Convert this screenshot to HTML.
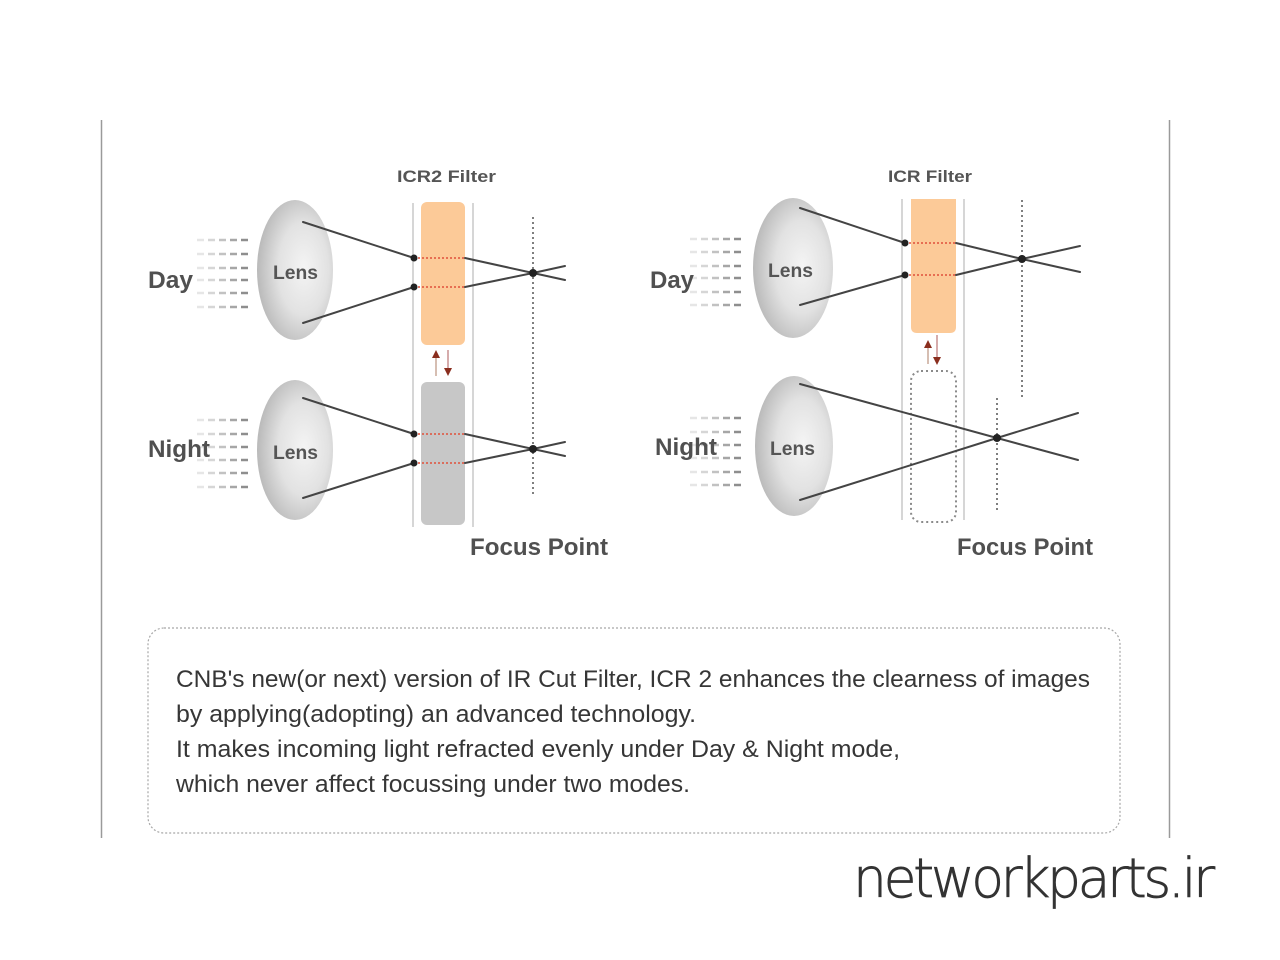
<!DOCTYPE html>
<html>
<head>
<meta charset="utf-8">
<style>
html,body{margin:0;padding:0;background:#fff;}
svg{display:block;}
text{font-family:"Liberation Sans",sans-serif;}
</style>
</head>
<body>
<svg width="1280" height="960" viewBox="0 0 1280 960" xmlns="http://www.w3.org/2000/svg">
<defs>
<radialGradient id="lens" cx="0.6" cy="0.5" r="0.6" fx="0.62" fy="0.48">
<stop offset="0" stop-color="#f4f4f4"/>
<stop offset="0.55" stop-color="#e2e2e2"/>
<stop offset="1" stop-color="#b9b9b9"/>
</radialGradient>
<g id="dl" stroke-width="2.5">
<line x1="197" y1="0" x2="204" y2="0" stroke="#e6e6e6"/>
<line x1="208" y1="0" x2="215" y2="0" stroke="#d6d6d6"/>
<line x1="219" y1="0" x2="226" y2="0" stroke="#c2c2c2"/>
<line x1="230" y1="0" x2="237" y2="0" stroke="#a6a6a6"/>
<line x1="241" y1="0" x2="248" y2="0" stroke="#8e8e8e"/>
</g>
</defs>
<rect width="1280" height="960" fill="#fff"/>

<!-- page side borders -->
<line x1="101.5" y1="120" x2="101.5" y2="838" stroke="#9a9a9a" stroke-width="1.5"/>
<line x1="1169.5" y1="120" x2="1169.5" y2="838" stroke="#9a9a9a" stroke-width="1.5"/>

<!-- ================= LEFT DIAGRAM ================= -->
<text x="397" y="182" font-size="17" font-weight="bold" fill="#555" textLength="99" lengthAdjust="spacingAndGlyphs">ICR2 Filter</text>

<line x1="413" y1="203" x2="413" y2="527" stroke="#c9c9c9" stroke-width="1.5"/>
<line x1="473" y1="203" x2="473" y2="527" stroke="#c9c9c9" stroke-width="1.5"/>
<rect x="421" y="202" width="44" height="143" rx="6" fill="#fcca98"/>
<rect x="421" y="382" width="44" height="143" rx="6" fill="#c7c7c7"/>

<line x1="436" y1="376" x2="436" y2="356" stroke="#c8a898" stroke-width="1.5"/>
<polygon points="432,358 440,358 436,350" fill="#8a2e1e"/>
<line x1="448" y1="350" x2="448" y2="369" stroke="#c89090" stroke-width="1.5"/>
<polygon points="444,368 452,368 448,376" fill="#8a2e1e"/>

<line x1="533" y1="217" x2="533" y2="497" stroke="#555" stroke-width="1.5" stroke-dasharray="2,3"/>

<ellipse cx="295" cy="270" rx="38" ry="70" fill="url(#lens)"/>
<ellipse cx="295" cy="450" rx="38" ry="70" fill="url(#lens)"/>
<text x="273" y="279" font-size="19" font-weight="bold" fill="#555" textLength="45" lengthAdjust="spacingAndGlyphs">Lens</text>
<text x="273" y="459" font-size="19" font-weight="bold" fill="#555" textLength="45" lengthAdjust="spacingAndGlyphs">Lens</text>

<use href="#dl" y="240"/><use href="#dl" y="254"/><use href="#dl" y="268"/><use href="#dl" y="280"/><use href="#dl" y="293"/><use href="#dl" y="307"/>
<use href="#dl" y="420"/><use href="#dl" y="434"/><use href="#dl" y="447"/><use href="#dl" y="460"/><use href="#dl" y="473"/><use href="#dl" y="487"/>

<text x="148" y="288" font-size="24" font-weight="bold" fill="#505050" textLength="45" lengthAdjust="spacingAndGlyphs">Day</text>
<text x="148" y="457" font-size="24" font-weight="bold" fill="#505050" textLength="62" lengthAdjust="spacingAndGlyphs">Night</text>

<g fill="none" stroke="#444" stroke-width="2" stroke-linecap="round">
<polyline points="303,222 414,258"/>
<polyline points="465,258 533,273 565,280"/>
<polyline points="303,323 414,287"/>
<polyline points="465,287 533,273 565,266"/>
<polyline points="303,398 414,434"/>
<polyline points="465,434 533,449 565,456"/>
<polyline points="303,498 414,463"/>
<polyline points="465,463 533,449 565,442"/>
</g>
<g stroke="#e0503a" stroke-width="1.5" stroke-dasharray="2,2">
<line x1="414" y1="258" x2="465" y2="258"/>
<line x1="414" y1="287" x2="465" y2="287"/>
<line x1="414" y1="434" x2="465" y2="434"/>
<line x1="414" y1="463" x2="465" y2="463"/>
</g>
<g fill="#222">
<circle cx="414" cy="258" r="3.5"/><circle cx="414" cy="287" r="3.5"/>
<circle cx="414" cy="434" r="3.5"/><circle cx="414" cy="463" r="3.5"/>
<circle cx="533" cy="273" r="4"/><circle cx="533" cy="449" r="4"/>
</g>

<text x="470" y="555" font-size="24" font-weight="bold" fill="#505050" textLength="138" lengthAdjust="spacingAndGlyphs">Focus Point</text>

<!-- ================= RIGHT DIAGRAM ================= -->
<text x="888" y="182" font-size="17" font-weight="bold" fill="#555" textLength="84" lengthAdjust="spacingAndGlyphs">ICR Filter</text>

<line x1="902" y1="199" x2="902" y2="520" stroke="#c9c9c9" stroke-width="1.5"/>
<line x1="964" y1="199" x2="964" y2="520" stroke="#c9c9c9" stroke-width="1.5"/>
<path d="M911,199 H956 V327 Q956,333 950,333 H917 Q911,333 911,327 Z" fill="#fcca98"/>
<rect x="911" y="371" width="45" height="151" rx="10" fill="none" stroke="#8a8a8a" stroke-width="2" stroke-dasharray="2,3"/>

<line x1="928" y1="364" x2="928" y2="346" stroke="#c8a898" stroke-width="1.5"/>
<polygon points="924,348 932,348 928,340" fill="#8a2e1e"/>
<line x1="937" y1="335" x2="937" y2="358" stroke="#c89090" stroke-width="1.5"/>
<polygon points="933,357 941,357 937,365" fill="#8a2e1e"/>

<line x1="1022" y1="200" x2="1022" y2="398" stroke="#555" stroke-width="1.5" stroke-dasharray="2,3"/>
<line x1="997" y1="398" x2="997" y2="512" stroke="#555" stroke-width="1.5" stroke-dasharray="2,3"/>

<ellipse cx="793" cy="268" rx="40" ry="70" fill="url(#lens)"/>
<ellipse cx="794" cy="446" rx="39" ry="70" fill="url(#lens)"/>
<text x="768" y="277" font-size="19" font-weight="bold" fill="#555" textLength="45" lengthAdjust="spacingAndGlyphs">Lens</text>
<text x="770" y="455" font-size="19" font-weight="bold" fill="#555" textLength="45" lengthAdjust="spacingAndGlyphs">Lens</text>

<use href="#dl" x="493" y="239"/><use href="#dl" x="493" y="252"/><use href="#dl" x="493" y="266"/><use href="#dl" x="493" y="278"/><use href="#dl" x="493" y="292"/><use href="#dl" x="493" y="305"/>
<use href="#dl" x="493" y="418"/><use href="#dl" x="493" y="432"/><use href="#dl" x="493" y="445"/><use href="#dl" x="493" y="458"/><use href="#dl" x="493" y="472"/><use href="#dl" x="493" y="485"/>

<text x="650" y="288" font-size="24" font-weight="bold" fill="#505050" textLength="44" lengthAdjust="spacingAndGlyphs">Day</text>
<text x="655" y="455" font-size="24" font-weight="bold" fill="#505050" textLength="62" lengthAdjust="spacingAndGlyphs">Night</text>

<g fill="none" stroke="#444" stroke-width="2" stroke-linecap="round">
<polyline points="800,208 905,243"/>
<polyline points="956,243 1022,259 1080,272"/>
<polyline points="800,305 905,275"/>
<polyline points="956,275 1022,259 1080,246"/>
<polyline points="800,384 997,438 1078,460"/>
<polyline points="800,500 997,438 1078,413"/>
</g>
<g stroke="#e0503a" stroke-width="1.5" stroke-dasharray="2,2">
<line x1="905" y1="243" x2="956" y2="243"/>
<line x1="905" y1="275" x2="956" y2="275"/>
</g>
<g fill="#222">
<circle cx="905" cy="243" r="3.5"/><circle cx="905" cy="275" r="3.5"/>
<circle cx="1022" cy="259" r="4"/><circle cx="997" cy="438" r="4"/>
</g>

<text x="957" y="555" font-size="24" font-weight="bold" fill="#505050" textLength="136" lengthAdjust="spacingAndGlyphs">Focus Point</text>

<!-- ================= TEXT BOX ================= -->
<rect x="148" y="628" width="972" height="205" rx="16" fill="none" stroke="#a8a8a8" stroke-width="1.2" stroke-dasharray="2,2"/>
<g font-size="24" fill="#363636">
<text x="176" y="687" textLength="914" lengthAdjust="spacingAndGlyphs">CNB's new(or next) version of IR Cut Filter, ICR 2 enhances the clearness of images</text>
<text x="176" y="722" textLength="520" lengthAdjust="spacingAndGlyphs">by applying(adopting) an advanced technology.</text>
<text x="176" y="757" textLength="724" lengthAdjust="spacingAndGlyphs">It makes incoming light refracted evenly under Day &amp; Night mode,</text>
<text x="176" y="792" textLength="514" lengthAdjust="spacingAndGlyphs">which never affect focussing under two modes.</text>
</g>

<!-- watermark -->
<g transform="translate(853,897) scale(1.3,1.35)">
<text x="0" y="0" font-size="40" font-weight="200" fill="#333" stroke="#333" stroke-width="0.5" letter-spacing="-2.5" style="font-family:'DejaVu Sans','Liberation Sans',sans-serif" textLength="276" lengthAdjust="spacingAndGlyphs">networkparts.ir</text>
</g>
</svg>
</body>
</html>
